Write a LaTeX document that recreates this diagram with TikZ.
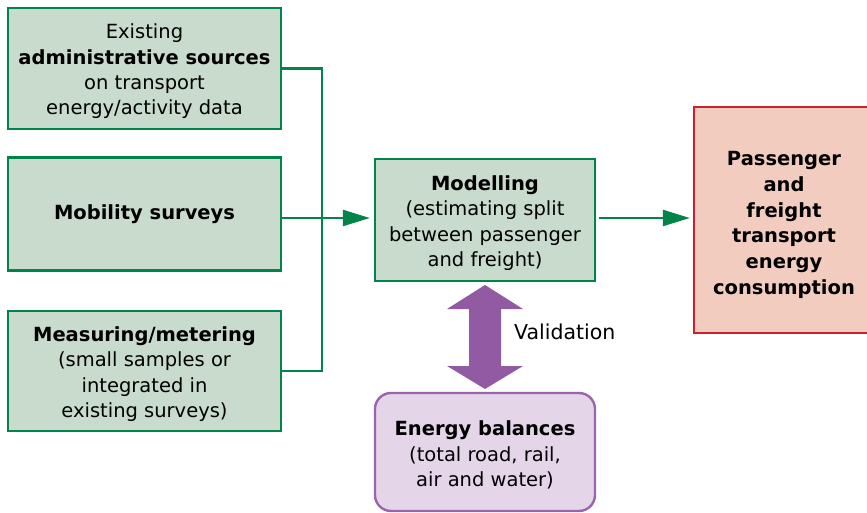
\documentclass[tikz,border=0pt]{standalone}
\usepackage{fontspec}
\setmainfont{DejaVu Sans}
\usetikzlibrary{arrows.meta}
\definecolor{gline}{HTML}{00844A}
\definecolor{gfill}{HTML}{C8DBCD}
\definecolor{rline}{HTML}{D0202E}
\definecolor{rfill}{HTML}{F2CDBF}
\definecolor{parrow}{HTML}{935AA4}
\definecolor{pline}{HTML}{9C64AE}
\definecolor{pfill}{HTML}{E4D5E9}
\tikzset{
  gbox/.style={draw=gline, line width=2.4pt, fill=gfill, inner sep=0pt},
  flow/.style={draw=gline, line width=2.4pt},
  flowarrow/.style={flow, -{Triangle[length=27pt,width=16pt]}},
  txt/.style={align=center, inner sep=0pt, yshift=-3pt, font=\fontsize{19.5}{25.3}\selectfont},
}
\begin{document}
\begin{tikzpicture}[x=1pt,y=-1pt]
\useasboundingbox (0,0) rectangle (867,513);
\clip (0,0) rectangle (867,513);
\fill[white] (0,0) rectangle (867,513);
\node[gbox, minimum width=273pt, minimum height=121pt,
  label={[txt]center:{Existing\\\textbf{administrative sources}\\on transport\\energy/activity data}}]
  (A) at (144.5,68.5) {};
\node[gbox, minimum width=273pt, minimum height=113pt,
  label={[txt, yshift=3pt]center:{\textbf{Mobility surveys}}}] (B) at (144.5,214) {};
\node[gbox, minimum width=273pt, minimum height=120pt,
  label={[txt]center:{\textbf{Measuring/metering}\\(small samples or\\integrated in\\existing surveys)}}]
  (C) at (144.5,371) {};
\node[gbox, minimum width=220pt, minimum height=122pt,
  label={[txt]center:{\textbf{Modelling}\\(estimating split\\between passenger\\and freight)}}]
  (M) at (485,220) {};
\node[draw=rline, line width=2.4pt, fill=rfill, minimum width=185pt, minimum height=226pt,
  inner sep=0pt] (P) at (786.5,220) {};
\node[txt, font=\bfseries\fontsize{19.5}{25.7}\selectfont] (Pt) at (784,222)
  {Passenger\\and\\freight\\transport\\energy\\consumption};
\node[draw=pline, line width=2.4pt, fill=pfill, rounded corners=16pt, minimum width=220pt,
  minimum height=118pt, inner sep=0pt,
  label={[txt]center:{\textbf{Energy balances}\\(total road, rail,\\air and water)}}]
  (E) at (485,452) {};
\node[txt, yshift=3pt, anchor=west, font=\fontsize{20.5}{25}\selectfont] (V) at (514,332) {Validation};
\coordinate (J) at (322,218);
\draw[flow] (A.east) -| (J);
\draw[flow] (C.east) -| (J);
\draw[flowarrow, shorten >=4pt] (B.east |- J) -- (M.west |- J);
\draw[flowarrow, shorten <=3pt, shorten >=3pt] (M.east |- J) -- (P.west |- J);
\fill[parrow] (485,285) -- (523,309) -- (501,309) -- (501,366) -- (523,366) -- (485,389)
  -- (447,366) -- (469,366) -- (469,309) -- (447,309) -- cycle;
\end{tikzpicture}
\end{document}
